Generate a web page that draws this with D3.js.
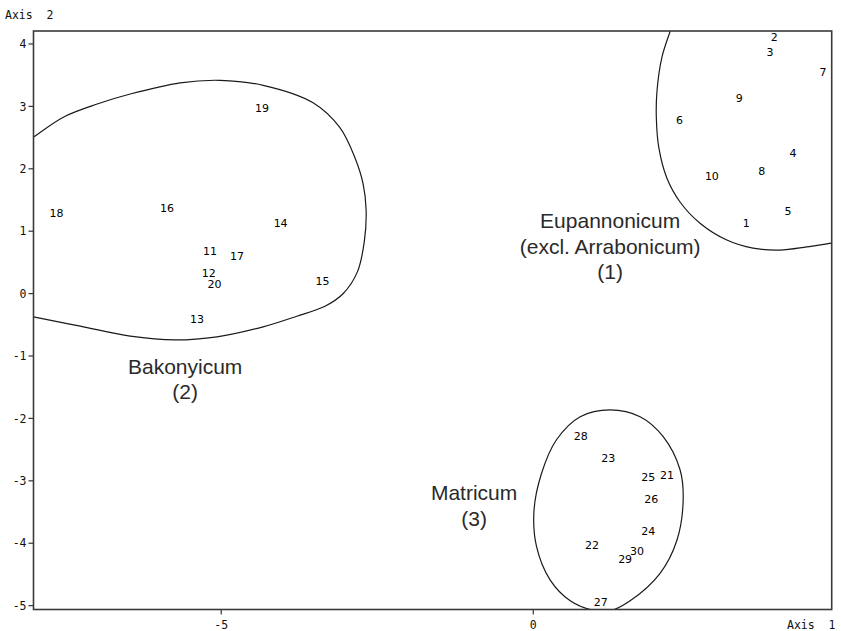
<!DOCTYPE html>
<html>
<head>
<meta charset="utf-8">
<script src="https://cdn.jsdelivr.net/npm/d3@7"></script>
<style>
  html, body { margin: 0; padding: 0; background: #fff; }
  svg { display: block; }
</style>
</head>
<body>
<svg id="chart" width="841" height="631"></svg>
<script>
// Sample scores on the first two ordination axes
const sampleIds = [1, 2, 3, 4, 5, 6, 7, 8, 9, 10,
                   11, 12, 13, 14, 15, 16, 17, 18, 19, 20,
                   21, 22, 23, 24, 25, 26, 27, 28, 29, 30];
const axis1Scores = [3.42, 3.87, 3.80, 4.17, 4.09, 2.35, 4.65, 3.67, 3.31, 2.87,
                     -5.17, -5.19, -5.38, -4.04, -3.37, -5.86, -4.74, -7.63, -4.34, -5.10,
                     2.15, 0.95, 1.21, 1.85, 1.85, 1.90, 1.09, 0.77, 1.48, 1.67];
const axis2Scores = [1.12, 4.10, 3.87, 2.24, 1.32, 2.77, 3.54, 1.96, 3.12, 1.88,
                     0.67, 0.32, -0.42, 1.12, 0.20, 1.36, 0.59, 1.29, 2.97, 0.14,
                     -2.92, -4.04, -2.64, -3.82, -2.95, -3.30, -4.95, -2.29, -4.26, -4.13];

// Tick values
const xTickValues = [-5, 0];
const yTickValues = [-5, -4, -3, -2, -1, 0, 1, 2, 3, 4];

// Boundaries of the three floristic regions (axis units)
const eupannonicumOutline = [
  [2.36, 4.66], [2.21, 4.22], [2.07, 3.78], [1.99, 3.23], [1.98, 2.81], [2.02, 2.33],
  [2.15, 1.84], [2.36, 1.46], [2.68, 1.12], [3.11, 0.85], [3.53, 0.72], [3.96, 0.69],
  [4.39, 0.74], [4.79, 0.80], [5.18, 0.85]
];
const bakonyicumOutline = [
  [-8.45, 2.17], [-8.00, 2.50], [-7.50, 2.83], [-6.98, 3.03], [-6.45, 3.19], [-5.65, 3.37], [-5.01, 3.41],
  [-4.32, 3.33], [-3.52, 3.05], [-3.09, 2.65], [-2.85, 2.17], [-2.72, 1.76], [-2.67, 1.33],
  [-2.70, 0.82], [-2.81, 0.34], [-3.04, -0.01], [-3.33, -0.21], [-3.78, -0.37], [-4.32, -0.54],
  [-5.06, -0.70], [-5.73, -0.75], [-6.45, -0.69], [-7.25, -0.53], [-8.00, -0.38], [-8.49, -0.28]
];
const matricumOutline = [
  [1.24, -1.87], [1.72, -1.98], [2.09, -2.30], [2.36, -2.83], [2.41, -3.32], [2.31, -3.96],
  [2.04, -4.49], [1.56, -4.93], [1.24, -5.09], [1.00, -5.09], [0.60, -4.93], [0.28, -4.60],
  [0.06, -4.06], [0.02, -3.48], [0.14, -2.89], [0.38, -2.35], [0.76, -1.98]
];

// Region names and where they are written (axis units, first line centre)
const regionNames = [
  ["Eupannonicum", "(excl. Arrabonicum)", "(1)"],
  ["Bakonyicum", "(2)"],
  ["Matricum", "(3)"]
];
const regionLabelAt = [[1.24, 1.16], [-5.57, -1.17], [-0.94, -3.20]];

const xTitle = "Axis  1";
const yTitle = "Axis  2";

// ---- layout ----
const svg = d3.select("#chart");
const plot = { left: 33.5, right: 831.7, top: 31, bottom: 609.5 };

const x = d3.scaleLinear().domain([-8, 4.79]).range([plot.left, plot.right]);
const y = d3.scaleLinear().domain([-5.07, 4.2]).range([plot.bottom, plot.top]);

const monoFont = "'DejaVu Sans Mono', 'Liberation Mono', monospace";
const labelFont = "'DejaVu Sans', sans-serif";
const regionFont = "'Liberation Sans', Arial, sans-serif";

svg.append("defs").append("clipPath").attr("id", "plot-clip")
  .append("rect")
  .attr("x", plot.left).attr("y", plot.top)
  .attr("width", plot.right - plot.left).attr("height", plot.bottom - plot.top);

// Region boundaries
const outlineGroup = svg.append("g").attr("clip-path", "url(#plot-clip)")
  .attr("fill", "none").attr("stroke", "#1a1a1a").attr("stroke-width", 1.2);

const openLine = d3.line().x(d => x(d[0])).y(d => y(d[1])).curve(d3.curveCatmullRom.alpha(0.5));
const closedLine = d3.line().x(d => x(d[0])).y(d => y(d[1])).curve(d3.curveCatmullRomClosed.alpha(0.5));

outlineGroup.append("path").attr("d", openLine(eupannonicumOutline));
outlineGroup.append("path").attr("d", openLine(bakonyicumOutline));
outlineGroup.append("path").attr("d", closedLine(matricumOutline));

// Axes
const yAxis = d3.axisLeft(y).tickValues(yTickValues).tickSize(5).tickPadding(2)
  .tickFormat(d => String(d));
const xAxis = d3.axisBottom(x).tickValues(xTickValues).tickSize(5).tickPadding(6)
  .tickFormat(d => String(d));

const gy = svg.append("g").attr("transform", `translate(${plot.left},0)`).call(yAxis);
const gx = svg.append("g").attr("transform", `translate(0,${plot.bottom})`).call(xAxis);

[gx, gy].forEach(g => {
  g.select(".domain").remove();
  g.selectAll(".tick line").attr("stroke", "#333").attr("stroke-width", 1.2);
  g.selectAll(".tick text")
    .attr("fill", "#111")
    .style("font-family", monoFont)
    .style("font-size", "11.5px");
});
gy.selectAll(".tick text").attr("dy", "0.36em");

// Plot frame
svg.append("rect")
  .attr("x", plot.left).attr("y", plot.top)
  .attr("width", plot.right - plot.left).attr("height", plot.bottom - plot.top)
  .attr("fill", "none").attr("stroke", "#3a3a3a").attr("stroke-width", 1.6);

// Axis titles
svg.append("text").text(yTitle)
  .attr("x", 5).attr("y", 19)
  .attr("fill", "#111").style("font-family", monoFont).style("font-size", "11.5px")
  .style("white-space", "pre").attr("xml:space", "preserve");
svg.append("text").text(xTitle)
  .attr("x", 787).attr("y", 629)
  .attr("fill", "#111").style("font-family", monoFont).style("font-size", "11.5px")
  .style("white-space", "pre").attr("xml:space", "preserve");

// Sample numbers
const samples = sampleIds.map((id, i) => ({ id, a1: axis1Scores[i], a2: axis2Scores[i] }));
svg.append("g").selectAll("text").data(samples).join("text")
  .attr("x", d => x(d.a1))
  .attr("y", d => y(d.a2) + 4)
  .attr("text-anchor", "middle")
  .attr("fill", "#000")
  .style("font-family", labelFont)
  .style("font-size", "11px")
  .text(d => d.id);

// Region names
const regionG = svg.append("g");
regionNames.forEach((lines, i) => {
  const [ax, ay] = regionLabelAt[i];
  const t = regionG.append("text")
    .attr("text-anchor", "middle")
    .attr("fill", "#2a2a2a")
    .style("font-family", regionFont)
    .style("font-size", "21px");
  lines.forEach((line, j) => {
    t.append("tspan")
      .attr("x", x(ax))
      .attr("y", y(ay) + 7.5 + j * 25.5)
      .text(line);
  });
});
</script>
</body>
</html>
